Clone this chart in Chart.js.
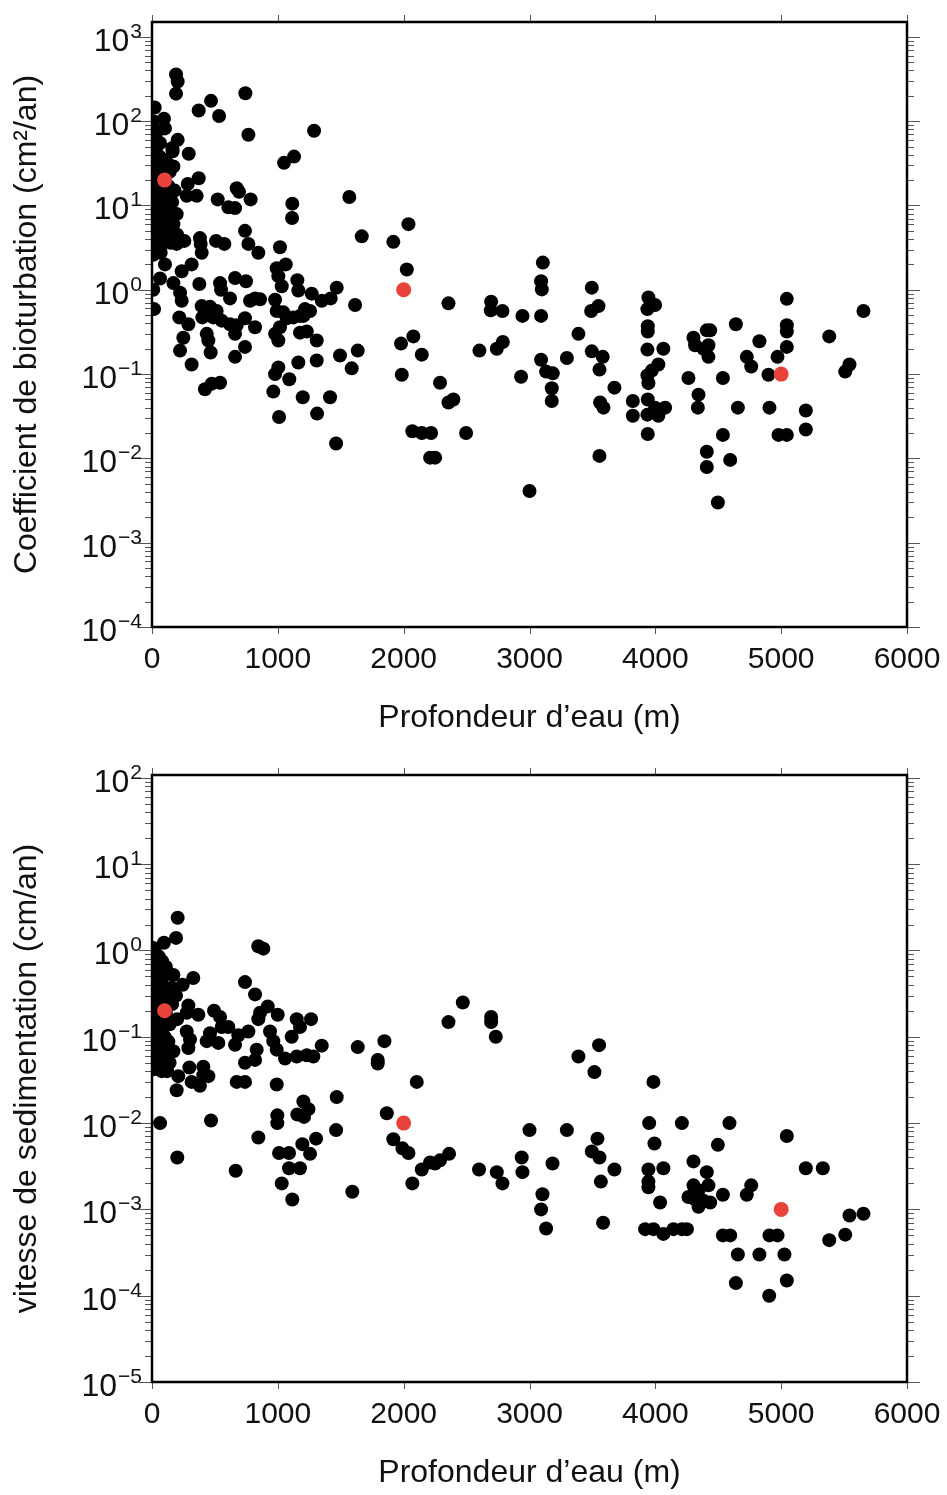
<!DOCTYPE html>
<html>
<head>
<meta charset="utf-8">
<script src="https://cdn.jsdelivr.net/npm/chart.js@4.4.0/dist/chart.umd.min.js"></script>
<style>
html, body { margin: 0; padding: 0; background: #fff; }
canvas { position: absolute; left: 0; }
#haut { top: 0; }
#bas { top: 747px; }
</style>
</head>
<body>
<canvas id="haut" width="947" height="747" style="width:947px;height:747px"></canvas>
<canvas id="bas" width="947" height="748" style="width:947px;height:748px"></canvas>
<script>
// Profondeur d'eau (m), coefficient de bioturbation (cm2/an)
const bioturbation = [
  [191,357],[204,295],[191,212],[21,145],[469,174],[371,134],[533,115],[742,214],[95,107],[103,82],
  [766,69],[1288,77],[24,63],[204,60],[64,55],[162,48],[164,44],[292,41],[1129,38],[1049,32],
  [170,29],[371,21],[284,18],[673,16],[692,14.5],[276,13],[355,13],[522,11.8],[784,11.8],[1568,12.6],
  [1115,10.5],[607,9.5],[660,9.3],[1113,7.1],[196,7.9],
  [0,40],[30,45],[60,38],[90,35],[15,32],[45,30],[120,32],[75,27],[0,25],[30,22],
  [140,25],[100,22],[55,18],[15,17],[130,17],[180,15],[80,15],[40,13],[0,12],[110,12],
  [160,11],[60,10],[20,9],[90,8.5],[140,9],[5,7],[45,7],[120,6.5],[75,6],[170,6],
  [25,5.5],[100,5],[140,4.5],[55,4.5],[10,4],[200,4.5],[80,3.8],[150,3.6],[30,3.3],[10,100],[40,75],
  [739,5.0],[1667,4.3],[1918,3.7],[196,3.5],[257,3.8],[381,4.1],[387,3.5],[395,2.75],[509,3.8],[575,3.5],
  [766,3.5],[845,2.75],[1017,3.2],[64,3.0],[69,2.75],[10,2.6],[103,2.0],[315,2.0],[236,1.66],[64,1.36],
  [170,1.2],[376,1.17],[541,1.2],[549,1.0],[660,1.38],[747,1.26],[991,1.8],[1063,2.0],[1004,1.45],[1031,1.1],
  [1155,1.3],[1163,0.98],[1269,0.9],[1468,1.06],[1349,0.74],[1420,0.79],[1614,0.66],[10,1.0],[16,0.59],[223,0.92],
  [236,0.74],[395,0.64],[461,0.63],[514,0.56],[620,0.79],[779,0.74],[819,0.79],[859,0.77],[978,0.76],[991,0.56],
  [1044,0.54],[1216,0.59],[1256,0.56],[1203,0.49],[217,0.47],[289,0.39],[400,0.47],[487,0.47],[554,0.43],[620,0.39],
  [673,0.38],[739,0.46],[1071,0.46],[1123,0.47],[1176,0.49],[1017,0.36],[978,0.30],[1004,0.25],[819,0.36],[1230,0.32],
  [1176,0.31],[435,0.30],[448,0.25],[466,0.18],[249,0.27],[660,0.30],[223,0.19],[739,0.21],[660,0.16],[315,0.13],
  [1309,0.25],[1309,0.145],[1163,0.137],[1494,0.166],[1635,0.19],[1587,0.117],[978,0.10],[1004,0.12],[1091,0.087],[964,0.062],
  [1198,0.053],[1415,0.053],[421,0.066],[475,0.077],[541,0.079],[1010,0.031],[1312,0.034],[1463,0.015],
  [2038,6.0],[2025,1.74],[2356,0.69],[2695,0.72],[2692,0.57],[2785,0.56],[2944,0.49],[3106,2.1],[3092,1.26],[3098,1.01],
  [3092,0.49],[3495,1.06],[3490,0.56],[3548,0.64],[3389,0.30],[2077,0.28],[1979,0.23],[2144,0.17],[1985,0.098],[2602,0.19],
  [2740,0.20],[2788,0.24],[2933,0.093],[3092,0.148],[3132,0.107],[3185,0.102],[3177,0.068],[3177,0.048],[3297,0.155],[3495,0.186],
  [3582,0.16],[3556,0.113],[3675,0.069],[3561,0.046],[3588,0.040],[2289,0.079],[2356,0.046],[2395,0.050],[2069,0.021],[2144,0.020],
  [2218,0.020],[2210,0.0102],[2250,0.0102],[2496,0.020],[3000,0.0041],[3556,0.0107],[3821,0.048],[3821,0.032],
  [3945,0.81],[3998,0.66],[3937,0.59],[3940,0.37],[3940,0.32],[3937,0.195],[4064,0.20],[4024,0.13],[3972,0.11],[3937,0.096],
  [3945,0.078],[3940,0.050],[3998,0.040],[4078,0.040],[4024,0.032],[3937,0.033],[3940,0.0195],
  [4263,0.09],[4343,0.057],[4338,0.040],[4303,0.27],[4316,0.22],[4383,0.20],[4422,0.22],[4422,0.16],[4409,0.33],[4436,0.33],
  [4537,0.09],[4640,0.39],[4409,0.012],[4409,0.0079],[4537,0.019],[4595,0.0096],[4497,0.003],[4656,0.040],[4727,0.16],[4762,0.123],
  [4827,0.245],[4907,0.040],[4899,0.098],[4971,0.16],[5045,0.78],[5045,0.38],[5045,0.32],[5045,0.21],[4979,0.019],[5045,0.019],
  [5196,0.037],[5196,0.022],[5382,0.28],[5543,0.13],[5509,0.107],[5654,0.56]
];
const refBio = [[100,20],[2000,1],[5000,0.1]];

// Profondeur d'eau (m), vitesse de sedimentation (cm/an)
const sedimentation = [
  [204,2.4],[191,1.4],[95,1.23],[845,1.12],[885,1.05],[10,1.07],[328,0.48],[739,0.43],[819,0.31],[920,0.225],
  [244,0.40],[170,0.52],[156,0.37],[191,0.30],[289,0.23],[276,0.19],[368,0.18],[493,0.20],[541,0.17],[607,0.13],
  [554,0.13],[845,0.16],[859,0.19],[999,0.18],[1150,0.16],[1176,0.13],[1110,0.10],[1264,0.16],[276,0.115],[302,0.093],
  [289,0.074],[461,0.11],[435,0.089],[527,0.085],[686,0.104],[766,0.115],[660,0.081],[938,0.115],[964,0.089],[991,0.071],
  [1057,0.056],[832,0.071],[819,0.054],[1150,0.059],[1230,0.061],[1282,0.059],[1349,0.079],[1635,0.076],[1847,0.089],[1794,0.054],
  [1794,0.049],[170,0.068],[739,0.050],[69,0.049],[69,0.041],[297,0.044],[408,0.036],
  [0,1.0],[25,0.95],[55,0.85],[10,0.8],[80,0.75],[35,0.7],[0,0.62],[110,0.65],[60,0.58],[20,0.52],
  [90,0.5],[130,0.55],[0,0.45],[45,0.43],[75,0.4],[110,0.36],[20,0.35],[55,0.32],[0,0.28],[90,0.29],
  [130,0.27],[35,0.25],[160,0.24],[65,0.22],[10,0.2],[110,0.19],[45,0.17],[200,0.16],[80,0.15],[0,0.14],
  [140,0.14],[25,0.12],[60,0.115],[100,0.1],[0,0.095],[40,0.09],[130,0.088],[80,0.08],[15,0.07],[55,0.065],
  [110,0.06],[0,0.055],[30,0.05],[140,0.05],[90,0.045],[10,0.042],[120,0.04],
  [50,0.047],[77,0.040],[209,0.035],[196,0.024],[315,0.030],[381,0.027],[448,0.035],[408,0.045],[673,0.030],[739,0.030],
  [991,0.028],[1468,0.020],[1866,0.013],[1918,0.0065],[1990,0.0051],[2038,0.0045],[64,0.010],[469,0.0107],[996,0.0123],[996,0.010],
  [1203,0.0178],[1243,0.0145],[1155,0.0126],[1208,0.0118],[1463,0.0083],[845,0.0068],[1195,0.0057],[1304,0.0066],[1010,0.0045],[1089,0.0045],
  [1256,0.0044],[201,0.0040],[1089,0.0030],[1176,0.0030],[665,0.0028],[1031,0.0020],[1115,0.0013],[1592,0.0016],
  [2470,0.25],[2356,0.148],[2695,0.17],[2695,0.148],[2732,0.10],[2104,0.030],[3553,0.080],[3389,0.059],[3516,0.039],[3985,0.030],
  [2069,0.0020],[2144,0.0029],[2210,0.0035],[2250,0.0034],[2289,0.0037],[2361,0.0044],[3000,0.0083],[3297,0.0083],[2599,0.0029],[2740,0.0027],
  [2785,0.0020],[2938,0.0040],[2944,0.0027],[3103,0.0015],[3183,0.0034],[3540,0.0066],[3495,0.0047],[3556,0.0040],[3675,0.0029],[3567,0.0021],
  [3951,0.010],[3993,0.0058],[3945,0.0029],[3945,0.0021],[3945,0.0018],[3092,0.001],[3132,0.0006],[3585,0.0007],
  [4211,0.010],[4589,0.010],[4497,0.0056],[5045,0.0071],[4303,0.0036],[4409,0.0027],[4064,0.0030],[4303,0.0019],[4422,0.0019],[4343,0.00166],
  [4263,0.00139],[4316,0.00131],[4383,0.00126],[4436,0.0012],[4343,0.00107],[4537,0.00148],[4762,0.0019],[4727,0.00148],[4038,0.0012],[3919,0.00059],
  [3985,0.00059],[4064,0.00052],[4144,0.00059],[4211,0.00059],[4251,0.00059],[4537,0.0005],[4595,0.0005],[4907,0.0005],[4971,0.0005],[4656,0.0003],
  [4827,0.0003],[5026,0.0003],[4640,0.00014],[5045,0.00015],[4905,0.0001],[5196,0.0030],[5331,0.0030],[5543,0.00085],[5654,0.00089],[5509,0.00051],
  [5382,0.00044]
];
const refSed = [[100,0.2],[2000,0.01],[5000,0.001]];

// graduations
const graduationsX = [0, 1000, 2000, 3000, 4000, 5000, 6000];
const decadesBio = [1e3, 1e2, 1e1, 1, 1e-1, 1e-2, 1e-3, 1e-4];
const exposantsBio = ['3', '2', '1', '0', '\u22121', '\u22122', '\u22123', '\u22124'];
const decadesSed = [1e2, 1e1, 1, 1e-1, 1e-2, 1e-3, 1e-4, 1e-5];
const exposantsSed = ['2', '1', '0', '\u22121', '\u22122', '\u22123', '\u22124', '\u22125'];

const POLICE = '"Liberation Sans", Arial, Helvetica, sans-serif';

// cadre, graduations et textes dessinés à partir des échelles du graphique
const cadre = {
    id: 'cadre',
    afterDraw(chart, args, opts) {
        const ctx = chart.ctx;
        const { left, right, top, bottom } = chart.chartArea;
        const sx = chart.scales.x, sy = chart.scales.y;
        ctx.save();

        ctx.strokeStyle = '#555';
        ctx.lineWidth = 1;
        ctx.beginPath();
        opts.decades.forEach(d => {
            for (let k = 1; k <= 9; k++) {
                const v = k * d;
                if (v < sy.min || v > sy.max) continue;
                const p = Math.round(sy.getPixelForValue(v)) + 0.5;
                const len = k === 1 ? 13 : 7;
                ctx.moveTo(left - len, p); ctx.lineTo(left, p);
                ctx.moveTo(right, p); ctx.lineTo(right + len, p);
            }
        });
        graduationsX.forEach(v => {
            const p = Math.round(sx.getPixelForValue(v)) + 0.5;
            ctx.moveTo(p, bottom); ctx.lineTo(p, bottom + 7);
            ctx.moveTo(p, top); ctx.lineTo(p, top - 7);
        });
        ctx.stroke();

        ctx.strokeStyle = '#000';
        ctx.lineWidth = 2.5;
        ctx.strokeRect(left, top, right - left, bottom - top);

        ctx.fillStyle = '#111';
        // étiquettes de l'axe y : 10 avec exposant
        opts.decades.forEach((d, i) => {
            const p = sy.getPixelForValue(d);
            ctx.font = '21px ' + POLICE;
            const wExp = ctx.measureText(opts.exposants[i]).width;
            ctx.font = '32px ' + POLICE;
            const wBase = ctx.measureText('10').width;
            const x0 = 141 - wExp - wBase;
            ctx.textAlign = 'left';
            ctx.textBaseline = 'alphabetic';
            ctx.fillText('10', x0, p + 14);
            ctx.font = '21px ' + POLICE;
            ctx.fillText(opts.exposants[i], x0 + wBase + 1, p + 1);
        });
        // étiquettes de l'axe x
        ctx.font = '30px ' + POLICE;
        ctx.textAlign = 'center';
        ctx.textBaseline = 'middle';
        graduationsX.forEach(v => {
            ctx.fillText(String(v), sx.getPixelForValue(v), bottom + 33);
        });
        // titres
        ctx.font = '32px ' + POLICE;
        ctx.fillText('Profondeur d\u2019eau (m)', (left + right) / 2, bottom + 91);
        ctx.save();
        ctx.translate(27, (top + bottom) / 2);
        ctx.rotate(-Math.PI / 2);
        ctx.fillText(opts.titreY, 0, 0);
        ctx.restore();

        ctx.restore();
    }
};

function creerGraphique(id, serie, reference, cfg) {
    return new Chart(document.getElementById(id), {
        type: 'scatter',
        data: {
            datasets: [
                {
                    data: reference.map(p => ({ x: p[0], y: p[1] })),
                    backgroundColor: '#e8433a',
                    borderWidth: 0,
                    pointRadius: 7.5,
                    pointHoverRadius: 7.5
                },
                {
                    data: serie.map(p => ({ x: p[0], y: p[1] })),
                    backgroundColor: '#000',
                    borderWidth: 0,
                    pointRadius: 7,
                    pointHoverRadius: 7
                }
            ]
        },
        options: {
            responsive: false,
            animation: false,
            events: [],
            layout: { padding: { top: cfg.haut, right: 40, left: 0, bottom: 0 } },
            plugins: {
                legend: { display: false },
                tooltip: { enabled: false },
                cadre: { decades: cfg.decades, exposants: cfg.exposants, titreY: cfg.titreY }
            },
            scales: {
                x: {
                    type: 'linear', min: 0, max: 6000,
                    grid: { display: false }, border: { display: false },
                    ticks: { display: false },
                    afterFit: s => { s.height = cfg.hauteurX; }
                },
                y: {
                    type: 'logarithmic', min: cfg.min, max: cfg.max,
                    grid: { display: false }, border: { display: false },
                    ticks: { display: false },
                    afterFit: s => { s.width = 152; }
                }
            }
        },
        plugins: [cadre]
    });
}

creerGraphique('haut', bioturbation, refBio, {
    haut: 22, hauteurX: 120, min: 1e-4, max: 1500,
    decades: decadesBio, exposants: exposantsBio,
    titreY: 'Coefficient de bioturbation (cm\u00b2/an)'
});
creerGraphique('bas', sedimentation, refSed, {
    haut: 28, hauteurX: 113, min: 1e-5, max: 108,
    decades: decadesSed, exposants: exposantsSed,
    titreY: 'vitesse de sedimentation (cm/an)'
});
</script>
</body>
</html>
